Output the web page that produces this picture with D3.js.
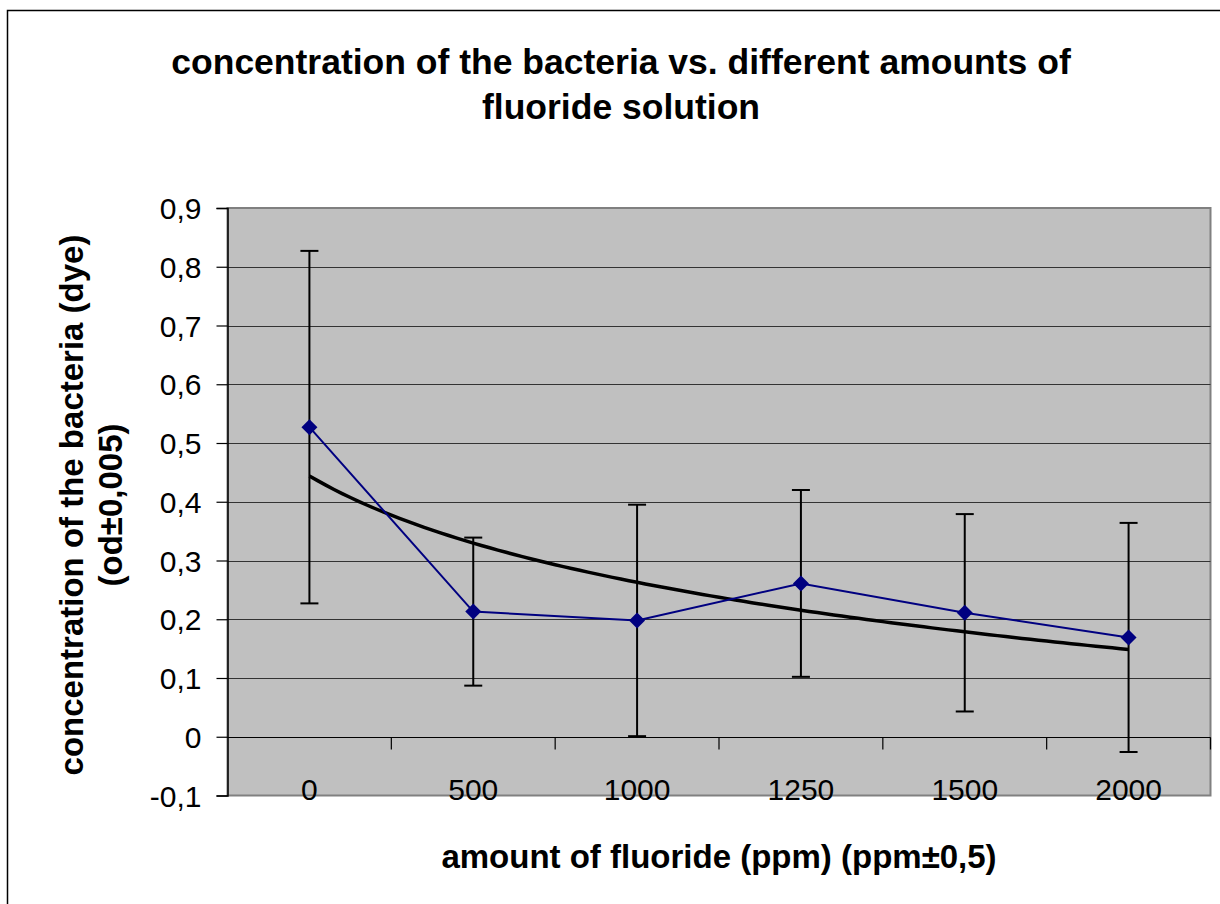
<!DOCTYPE html>
<html>
<head>
<meta charset="utf-8">
<script src="https://cdn.jsdelivr.net/npm/d3@7"></script>
<style>
  html, body { margin: 0; padding: 0; background: #fff; }
  svg { display: block; }
  text { font-family: "Liberation Sans", Arial, sans-serif; fill: #000; }
</style>
</head>
<body>
<svg id="chart" width="1220" height="904"></svg>
<script>
// ---- data ----
const categories = ["0", "500", "1000", "1250", "1500", "2000"];
const values = [0.527, 0.213, 0.198, 0.261, 0.211, 0.169];
const errors = [0.300, 0.126, 0.197, 0.159, 0.168, 0.195];
const yTicks = [-0.1, 0, 0.1, 0.2, 0.3, 0.4, 0.5, 0.6, 0.7, 0.8, 0.9];
const titleLines = ["concentration of the bacteria vs. different amounts of", "fluoride solution"];
const xTitle = "amount of fluoride (ppm) (ppm±0,5)";
const yTitleLines = ["concentration of the bacteria (dye)", "(od±0,005)"];

// ---- layout ----
const svg = d3.select("#chart");
const plot = { left: 227.5, right: 1210.5, top: 208, bottom: 795.5 };

// outer frame
svg.append("rect")
  .attr("x", 7.5).attr("y", 10.5)
  .attr("width", 1240).attr("height", 920)
  .attr("fill", "none").attr("stroke", "#000").attr("stroke-width", 1.5);

const x = d3.scaleBand().domain(categories).range([plot.left, plot.right]).padding(0);
const y = d3.scaleLinear().domain([-0.1, 0.9]).range([plot.bottom, plot.top]);
const cx = c => x(c) + x.bandwidth() / 2;

// plot area
svg.append("rect")
  .attr("x", plot.left).attr("y", plot.top)
  .attr("width", plot.right - plot.left).attr("height", plot.bottom - plot.top)
  .attr("fill", "#c0c0c0").attr("stroke", "#808080").attr("stroke-width", 2);

// gridlines
svg.append("g").selectAll("line")
  .data(yTicks.filter(t => t > -0.1 && t < 0.9))
  .join("line")
  .attr("x1", plot.left).attr("x2", plot.right)
  .attr("y1", d => Math.round(y(d)) + 0.5).attr("y2", d => Math.round(y(d)) + 0.5)
  .attr("stroke", "#333").attr("stroke-width", 1.2);

// y axis
const yAxis = d3.axisLeft(y)
  .tickValues(yTicks)
  .tickSize(11)
  .tickPadding(15)
  .tickFormat(d => (Math.abs(d) < 1e-9 ? "0" : (d < 0 ? "-" : "") + Math.abs(d).toFixed(1).replace(".", ",")));
const yg = svg.append("g").attr("transform", `translate(${plot.left},0)`).call(yAxis);
yg.attr("font-size", null).attr("font-family", null);
yg.select(".domain").attr("stroke", "#000").attr("stroke-width", 1.5);
yg.selectAll(".tick line").attr("stroke", "#000").attr("stroke-width", 1.2);
yg.selectAll(".tick text")
  .attr("font-size", 30).attr("fill", "#000")
  .attr("dy", "0.35em");

// x axis at y = 0, ticks between categories
const y0 = Math.round(y(0)) + 0.5;
svg.append("line")
  .attr("x1", plot.left).attr("x2", plot.right)
  .attr("y1", y0).attr("y2", y0)
  .attr("stroke", "#000").attr("stroke-width", 1.2);
const boundaries = categories.map(c => x(c)).concat([x(categories[categories.length - 1]) + x.bandwidth()]);
svg.append("g").selectAll("line")
  .data(boundaries.slice(1))
  .join("line")
  .attr("x1", d => d).attr("x2", d => d)
  .attr("y1", y0).attr("y2", y0 + 12)
  .attr("stroke", "#000").attr("stroke-width", 1.2);

// x tick labels (sit at bottom of plot area)
svg.append("g").selectAll("text")
  .data(categories)
  .join("text")
  .attr("x", d => cx(d))
  .attr("y", 800)
  .attr("text-anchor", "middle")
  .attr("font-size", 30)
  .text(d => d);

// trendline: logarithmic least-squares fit over category index 1..n
const idx = categories.map((c, i) => i + 1);
const lx = idx.map(Math.log);
const mx = d3.mean(lx), my = d3.mean(values);
const a = d3.sum(lx.map((v, i) => (v - mx) * (values[i] - my))) / d3.sum(lx.map(v => (v - mx) ** 2));
const b = my - a * mx;
const xi = d3.scaleLinear().domain([1, categories.length]).range([cx(categories[0]), cx(categories[categories.length - 1])]);
const trendPts = d3.range(1, categories.length + 0.001, 0.05).map(t => [xi(t), y(a * Math.log(t) + b)]);
svg.append("path")
  .attr("d", d3.line()(trendPts))
  .attr("fill", "none").attr("stroke", "#000").attr("stroke-width", 3.5);

// error bars
const eb = svg.append("g").attr("stroke", "#000").attr("stroke-width", 2);
categories.forEach((c, i) => {
  const px = cx(c);
  const top = y(values[i] + errors[i]), bot = y(values[i] - errors[i]);
  eb.append("line").attr("x1", px).attr("x2", px).attr("y1", top).attr("y2", bot);
  eb.append("line").attr("x1", px - 9).attr("x2", px + 9).attr("y1", top).attr("y2", top);
  eb.append("line").attr("x1", px - 9).attr("x2", px + 9).attr("y1", bot).attr("y2", bot);
});

// series line
svg.append("path")
  .attr("d", d3.line().x((d, i) => cx(categories[i])).y(d => y(d))(values))
  .attr("fill", "none").attr("stroke", "#000080").attr("stroke-width", 2);

// markers
svg.append("g").selectAll("path")
  .data(values)
  .join("path")
  .attr("transform", (d, i) => `translate(${cx(categories[i])},${y(d)})`)
  .attr("d", "M0,-8L8,0L0,8L-8,0Z")
  .attr("fill", "#000080");

// title
svg.append("g").selectAll("text")
  .data(titleLines)
  .join("text")
  .attr("x", 621)
  .attr("y", (d, i) => 74 + i * 45)
  .attr("text-anchor", "middle")
  .attr("font-size", 35.5)
  .attr("font-weight", "bold")
  .text(d => d);

// x axis title
svg.append("text")
  .attr("x", 719).attr("y", 868)
  .attr("text-anchor", "middle")
  .attr("font-size", 33).attr("font-weight", "bold")
  .text(xTitle);

// y axis title
svg.append("g").selectAll("text")
  .data(yTitleLines)
  .join("text")
  .attr("transform", (d, i) => `translate(${83 + i * 39},505) rotate(-90)`)
  .attr("text-anchor", "middle")
  .attr("font-size", 33).attr("font-weight", "bold")
  .text(d => d);
</script>
</body>
</html>
